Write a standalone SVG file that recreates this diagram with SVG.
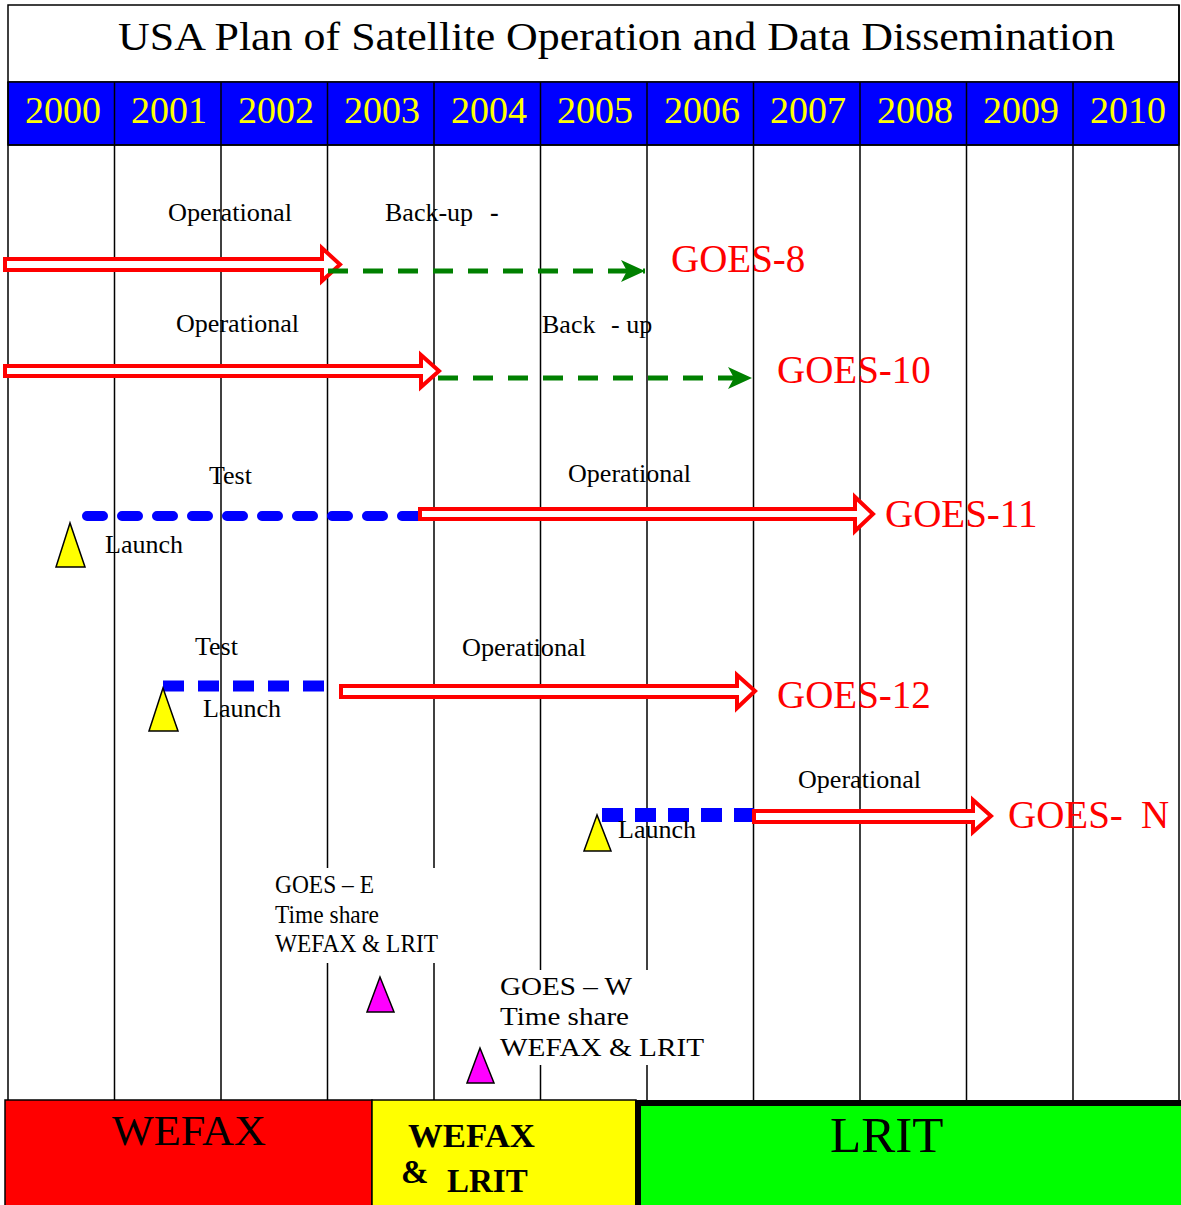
<svg xmlns="http://www.w3.org/2000/svg" width="1181" height="1205" viewBox="0 0 1181 1205">
<defs>
<style>
text{font-family:"Liberation Serif","Times New Roman",serif}
.grid{stroke:#000;stroke-width:1.5}
.yr{font-size:38px;fill:#ffff00;text-anchor:middle}
.lbl{font-size:26px;fill:#000}
.goes{font-size:39px;fill:#ff0000}
.note{font-size:25px;fill:#000}
.hollow{fill:#fff;stroke:#ff0000;stroke-width:4;stroke-linejoin:miter}
.backup{stroke:#008000;stroke-width:5;stroke-dasharray:20 15;fill:none}
.tri-y{fill:#ffff00;stroke:#000;stroke-width:1.5}
.tri-m{fill:#ff00ff;stroke:#000;stroke-width:1.5}
</style>
<marker id="ga" markerUnits="userSpaceOnUse" markerWidth="26" markerHeight="24" refX="24" refY="11" orient="auto">
<path d="M0,0 L24,11 L0,22 L6,11 Z" fill="#008000"/>
</marker>
</defs>
<rect width="1181" height="1205" fill="#fff"/>
<g id="title">
<rect x="8" y="5" width="1171" height="77" fill="#fff" stroke="#000" stroke-width="1.5"/>
<text x="118" y="50" font-size="41" textLength="997" lengthAdjust="spacingAndGlyphs">USA Plan of Satellite Operation and Data Dissemination</text>
</g>
<g id="header">
<rect x="8" y="82" width="1171" height="63" fill="#0000ff" stroke="#000" stroke-width="1.5"/>
<text class="yr" x="63" y="123">2000</text>
<text class="yr" x="169" y="123">2001</text>
<text class="yr" x="276" y="123">2002</text>
<text class="yr" x="382" y="123">2003</text>
<text class="yr" x="489" y="123">2004</text>
<text class="yr" x="595" y="123">2005</text>
<text class="yr" x="702" y="123">2006</text>
<text class="yr" x="808" y="123">2007</text>
<text class="yr" x="915" y="123">2008</text>
<text class="yr" x="1021" y="123">2009</text>
<text class="yr" x="1128" y="123">2010</text>
</g>
<g id="grid" class="grid">
<line x1="8" y1="82" x2="8" y2="1100"/>
<line x1="114.5" y1="82" x2="114.5" y2="1100"/>
<line x1="221" y1="82" x2="221" y2="1100"/>
<line x1="327.5" y1="82" x2="327.5" y2="1100"/>
<line x1="434" y1="82" x2="434" y2="1100"/>
<line x1="540.5" y1="82" x2="540.5" y2="1100"/>
<line x1="647" y1="82" x2="647" y2="1100"/>
<line x1="753.5" y1="82" x2="753.5" y2="1100"/>
<line x1="860" y1="82" x2="860" y2="1100"/>
<line x1="966.5" y1="82" x2="966.5" y2="1100"/>
<line x1="1073" y1="82" x2="1073" y2="1100"/>
<line x1="1179" y1="5" x2="1179" y2="1100"/>
<line x1="8" y1="145" x2="1179" y2="145"/>
</g>
<g id="connectors">
<path class="hollow" d="M5,259 H322 V248 L340,264.5 L322,281 V270 H5 Z"/>
<line class="backup" x1="328" y1="271" x2="645" y2="271" marker-end="url(#ga)"/>
<path class="hollow" d="M5,366 H421 V355 L439,371 L421,387 V376 H5 Z"/>
<line class="backup" x1="438" y1="378" x2="752" y2="378" marker-end="url(#ga)"/>
<line x1="87" y1="516" x2="418" y2="516" stroke="#0000ff" stroke-width="10" stroke-linecap="round" stroke-dasharray="16 19"/>
<path class="hollow" d="M420,509 H855 V497 L873,514 L855,531 V519 H420 Z"/>
<line x1="163" y1="686" x2="324" y2="686" stroke="#0000ff" stroke-width="11" stroke-dasharray="21 14"/>
<path class="hollow" d="M341,686 H737 V675 L755,691 L737,708 V697 H341 Z"/>
<line x1="602" y1="815" x2="754" y2="815" stroke="#0000ff" stroke-width="14" stroke-dasharray="21 12"/>
<path class="hollow" d="M754,811 H973 V800 L991,816 L973,832 V822 H754 Z"/>
</g>
<g id="goes-8">
<text class="lbl" x="168" y="221" textLength="124" lengthAdjust="spacingAndGlyphs">Operational</text>
<text class="lbl" x="385" y="221">Back-up<tspan x="490" font-weight="bold">-</tspan></text>
<text class="goes" x="671" y="272">GOES-8</text>
</g>
<g id="goes-10">
<text class="lbl" x="176" y="332" textLength="123" lengthAdjust="spacingAndGlyphs">Operational</text>
<text class="lbl" x="542" y="333">Back<tspan x="611">- up</tspan></text>
<text class="goes" x="777" y="383">GOES-10</text>
</g>
<g id="goes-11">
<polygon class="tri-y" points="70,523 56,567 85,567"/>
<text class="lbl" x="209" y="484">Test</text>
<text class="lbl" x="105" y="553">Launch</text>
<text class="lbl" x="568" y="482" textLength="123" lengthAdjust="spacingAndGlyphs">Operational</text>
<text class="goes" x="885" y="527">GOES-11</text>
</g>
<g id="goes-12">
<polygon class="tri-y" points="163,688 149,731 178,731"/>
<text class="lbl" x="195" y="655">Test</text>
<text class="lbl" x="203" y="717">Launch</text>
<text class="lbl" x="462" y="656" textLength="124" lengthAdjust="spacingAndGlyphs">Operational</text>
<text class="goes" x="777" y="708">GOES-12</text>
</g>
<g id="goes-n">
<polygon class="tri-y" points="597,815 584,851 611,851"/>
<text class="lbl" x="618" y="838">Launch</text>
<text class="lbl" x="798" y="788" textLength="123" lengthAdjust="spacingAndGlyphs">Operational</text>
<text class="goes" x="1008" y="828">GOES-<tspan x="1141">N</tspan></text>
</g>
<g id="goes-e">
<rect x="268" y="868" width="174" height="95" fill="#fff"/>
<text class="note" x="275" y="893" textLength="99" lengthAdjust="spacingAndGlyphs">GOES – E</text>
<text class="note" x="275" y="923" textLength="104" lengthAdjust="spacingAndGlyphs">Time share</text>
<text class="note" x="275" y="952" textLength="163" lengthAdjust="spacingAndGlyphs">WEFAX &amp; LRIT</text>
<polygon class="tri-m" points="380,977 367,1012 394,1012"/>
</g>
<g id="goes-w">
<rect x="490" y="970" width="222" height="95" fill="#fff"/>
<text class="note" x="500" y="995" font-size="27" textLength="132" lengthAdjust="spacingAndGlyphs">GOES – W</text>
<text class="note" x="500" y="1025" font-size="27" textLength="129" lengthAdjust="spacingAndGlyphs">Time share</text>
<text class="note" x="500" y="1056" font-size="27" textLength="204" lengthAdjust="spacingAndGlyphs">WEFAX &amp; LRIT</text>
<polygon class="tri-m" points="480,1048 467,1083 494,1083"/>
</g>
<g id="band-wefax">
<rect x="5" y="1100" width="367" height="110" fill="#ff0000" stroke="#000" stroke-width="1.5"/>
<text x="112" y="1145" font-size="43" textLength="154" lengthAdjust="spacingAndGlyphs">WEFAX</text>
</g>
<g id="band-both">
<rect x="372" y="1100" width="264" height="110" fill="#ffff00" stroke="#000" stroke-width="1.5"/>
<text x="408" y="1147" font-size="33" font-weight="bold" textLength="127" lengthAdjust="spacingAndGlyphs">WEFAX</text>
<text x="401" y="1183" font-size="33" font-weight="bold">&amp;</text>
<text x="447" y="1192" font-size="33" font-weight="bold">LRIT</text>
</g>
<g id="band-lrit">
<rect x="638" y="1103" width="560" height="120" fill="#00ff00" stroke="#000" stroke-width="6"/>
<text x="830" y="1152" font-size="51">LRIT</text>
</g>
</svg>
